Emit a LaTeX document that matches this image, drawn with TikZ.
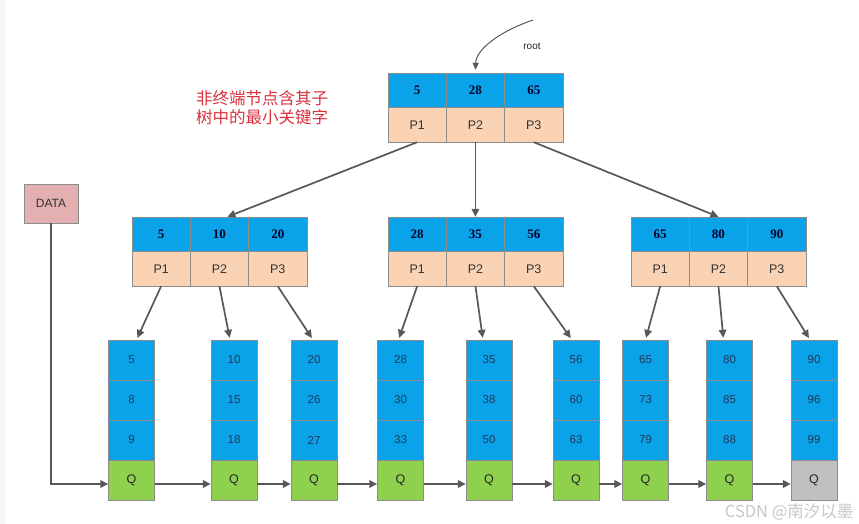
\documentclass[tikz,border=0pt]{standalone}
\usepackage{fontspec}
\setmainfont{Liberation Sans}
\newfontfamily\keyfont{Liberation Serif}
\newfontfamily\cjk{Noto Sans CJK SC}
\usetikzlibrary{arrows.meta}

\definecolor{keyblue}{HTML}{0AA2E8}
\definecolor{ptrpeach}{HTML}{FAD2B4}
\definecolor{qgreen}{HTML}{8FD14F}
\definecolor{qgray}{HTML}{C0C0C0}
\definecolor{datapink}{HTML}{E3AFB1}
\definecolor{cellborder}{HTML}{8C8C8C}
\definecolor{arrowgray}{HTML}{585858}
\definecolor{notered}{HTML}{D9323F}
\definecolor{leaftext}{HTML}{1E3A5A}

\tikzset{
    keycell/.style={draw=cellborder, fill=keyblue, minimum width=58.3pt, minimum height=34.5pt,
        inner sep=0pt, font=\keyfont\bfseries\fontsize{13}{15}\selectfont, text=black!85!blue},
    ptrcell/.style={draw=cellborder, fill=ptrpeach, minimum width=58.3pt, minimum height=34.5pt,
        inner sep=0pt, font=\fontsize{12.5}{14}\selectfont, text=black!80},
    leafcell/.style={draw=cellborder, fill=keyblue, minimum width=46pt, minimum height=40pt,
        inner sep=0pt, font=\fontsize{11.5}{13}\selectfont, text=leaftext},
    linkcell/.style={draw=cellborder, minimum width=46pt, minimum height=40pt,
        inner sep=0pt, font=\fontsize{12.5}{14}\selectfont, text=black!85},
    ptrarrow/.style={draw=arrowgray, line width=1.7pt, -{Triangle[length=8pt,width=7.5pt]}},
}

\begin{document}
\begin{tikzpicture}[x=1pt, y=-1pt]
    % Canvas
    \fill[white] (0,0) rectangle (859,524);
    \fill[black!3] (0,0) rectangle (6,524);
    \useasboundingbox (0,0) rectangle (859,524);

    % Index nodes: keys on top, pointers below
    \foreach \name/\x/\y/\vals in {r/388/73/{5,28,65}, a/132/217/{5,10,20},
                                   b/388/217/{28,35,56}, c/631/217/{65,80,90}} {
        \foreach \v [count=\i] in \vals {
            \node[keycell] (\name k\i) at (\x+58.3*\i-29.15, \y+17.25) {\v};
            \node[ptrcell] (\name p\i) at (\x+58.3*\i-29.15, \y+51.75) {P\i};
        }
    }

    % Leaf nodes
    \foreach \x/\p/\q/\s/\col [count=\n] in {131.5/5/8/9/qgreen, 234/10/15/18/qgreen,
            314/20/26/27/qgreen, 400.5/28/30/33/qgreen, 489/35/38/50/qgreen,
            576/56/60/63/qgreen, 645.5/65/73/79/qgreen, 729.5/80/85/88/qgreen,
            814/90/96/99/qgray} {
        \node[leafcell] (l\n-1) at (\x,360) {\p};
        \node[leafcell] (l\n-2) at (\x,400) {\q};
        \node[leafcell] (l\n-3) at (\x,440) {\s};
        \node[linkcell, fill=\col] (q\n) at (\x,480) {Q};
    }

    % Root pointers
    \draw[ptrarrow] (rp1.south) -- ([xshift=8pt]ak2.north);
    \draw[ptrarrow] (rp2.south) -- (bk2.north);
    \draw[ptrarrow] (rp3.south) -- (ck2.north);

    % Pointers to leaves
    \foreach \p/\l/\s in {ap1/1/5, ap2/2/-4, ap3/3/-1, bp1/4/-2, bp2/5/-6,
                          bp3/6/-4, cp1/7/0, cp2/8/-6, cp3/9/-4} {
        \draw[ptrarrow, shorten >=2pt] (\p.south) -- ([xshift=\s pt]l\l-1.north);
    }

    % Leaf chain
    \foreach \i [evaluate=\i as \j using int(\i+1)] in {1,...,8} {
        \draw[ptrarrow] ([yshift=-4pt]q\i.east) -- ([yshift=-4pt]q\j.west);
    }

    % DATA entry
    \node[draw=cellborder, fill=datapink, minimum width=54pt, minimum height=39pt,
          inner sep=0pt, font=\fontsize{12}{14}\selectfont, text=black!80] (data) at (51,203.5) {DATA};
    \draw[ptrarrow] (data.south) |- ([yshift=-4pt]q1.west);

    % Root label
    \coordinate (rootstart) at (533,20);
    \draw[draw=arrowgray, line width=1pt, -{Triangle[length=7pt,width=6pt]}, shorten >=3pt]
        (rootstart) .. controls (498,32) and (476,50) .. (rk2.north);
    \node[font=\fontsize{10}{12}\selectfont, text=black!85] (rootlabel) at (532,46) {root};

    % Note
    \node[font=\cjk\fontsize{16.5}{19.5}\selectfont, text=notered, align=left] (note) at (262,107.5)
        {非终端节点含其子\\树中的最小关键字};

    % Watermark
    \node[font=\cjk\fontsize{16.5}{18}\selectfont, text=black!22, anchor=east] (mark) at (857,512)
        {CSDN @南汐以墨};
\end{tikzpicture}
\end{document}
